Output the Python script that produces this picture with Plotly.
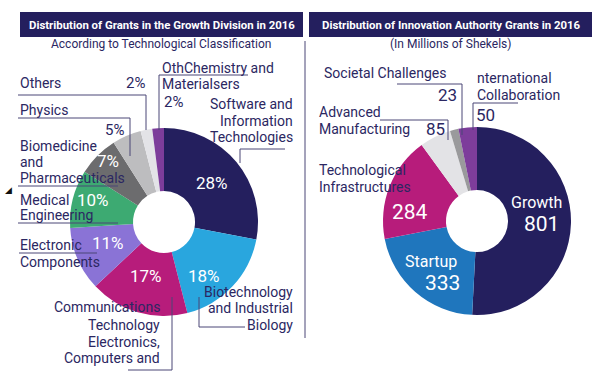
import plotly.graph_objects as go

W, H = 598, 377

# ---------------- data ----------------
left_labels = ["Software and Information Technologies", "Biotechnology and Industrial Biology",
               "Communications Technology Electronics, Computers and", "Electronic Components",
               "Medical Engineering", "Biomedicine and Pharmaceuticals", "Physics", "Others",
               "OthChemistry and Materialsers"]
left_values = [28, 18, 17, 11, 10, 7, 5, 2, 2]
left_colors = ["#241f5e", "#29a6de", "#b71c7b", "#8a73d6", "#3daa72", "#6c6c6e",
               "#bdbdbf", "#e3e3e7", "#7d3d9b"]

right_labels = ["Growth", "Startup", "Technological Infrastructures", "Advanced Manufacturing",
                "Societal Challenges", "International Collaboration"]
right_values = [801, 333, 284, 85, 23, 50]
right_colors = ["#241f5e", "#1f76bd", "#b71c7b", "#e3e3e6", "#9a9a9c", "#7d3d9b"]

NAVY = "#241f5e"
TXT = "#2b2762"
LINE = "#4a4676"
FONT = "Roboto"


def px(x):
    return x / W


def py(y):
    return 1 - y / H


fig = go.Figure()

fig.add_trace(go.Pie(
    labels=left_labels, values=left_values, sort=False, direction="clockwise",
    rotation=0, hole=0.33, textinfo="none", hoverinfo="label+percent",
    marker=dict(colors=left_colors, line=dict(width=0)),
    domain=dict(x=[px(70), px(258)], y=[py(316), py(128)]), showlegend=False))

fig.add_trace(go.Pie(
    labels=right_labels, values=right_values, sort=False, direction="clockwise",
    rotation=0, hole=0.33, textinfo="none", hoverinfo="label+value",
    marker=dict(colors=right_colors, line=dict(width=0)),
    domain=dict(x=[px(383), px(571)], y=[py(315), py(127)]), showlegend=False))

annotations = []
shapes = []


def txt(t, x, y, size=14, color=TXT, anchor="left", weight=None):
    f = dict(family=FONT, size=size, color=color)
    if weight:
        f["weight"] = weight
    annotations.append(dict(text=t, x=px(x), y=py(y), xref="paper", yref="paper",
                            xanchor=anchor, yanchor="middle", showarrow=False, font=f))


def line(pts):
    for (x0, y0), (x1, y1) in zip(pts[:-1], pts[1:]):
        shapes.append(dict(type="line", xref="paper", yref="paper",
                           x0=px(x0), y0=py(y0), x1=px(x1), y1=py(y1),
                           line=dict(color=LINE, width=1)))


# title bars
shapes.append(dict(type="rect", xref="paper", yref="paper", x0=px(20), x1=px(303),
                   y0=py(37), y1=py(12), fillcolor=NAVY, line=dict(width=0), layer="below"))
shapes.append(dict(type="rect", xref="paper", yref="paper", x0=px(309), x1=px(592),
                   y0=py(37), y1=py(12), fillcolor=NAVY, line=dict(width=0), layer="below"))
txt("<b>Distribution of Grants in the Growth Division in 2016</b>", 162, 25, 11.4, "white", "center")
txt("<b>Distribution of Innovation Authority Grants in 2016</b>", 451, 25, 11.4, "white", "center")
txt("According to Technological Classification", 161, 44, 12, TXT, "center")
txt("(In Millions of Shekels)", 450, 44, 12, TXT, "center")

# divider
line([(305, 41), (305, 338)])

# small marker
txt("◢", 8, 190, 9, "#111111", "center")

# ---------- left chart labels ----------
pct = [f"{v}%" for v in left_values]
# inside percentages
txt(pct[0], 212, 183, 17, "white", "center")
txt(pct[1], 204, 276, 17, "white", "center")
txt(pct[2], 146, 276, 17, "white", "center")
txt(pct[3], 108, 243, 17, "white", "center")
txt(pct[4], 93, 200, 17, "white", "center")
txt(pct[5], 108, 161, 17, "white", "center")
# outside percentages
txt(pct[6], 114, 130, 15, TXT, "center")
txt(pct[7], 135, 83, 15, TXT, "center")
txt(pct[8], 174, 102, 15, TXT, "center")

# Software and Information Technologies
txt("Software and", 295, 104, 14, TXT, "right")
txt("Information", 295, 121, 14, TXT, "right")
txt("Technologies", 295, 137, 14, TXT, "right")
line([(285, 149), (240, 149), (240, 163)])

# Chemistry
txt("OthChemistry and", 160, 68, 14, TXT, "left")
txt("Materialsers", 160, 84, 14, TXT, "left")
line([(248, 75), (159, 75), (159, 130)])

# Others
txt("Others", 18, 83, 14, TXT, "left")
line([(18, 95), (146, 95), (146, 130)])

# Physics
txt("Physics", 18, 110, 14, TXT, "left")
line([(18, 118), (130, 118), (130, 156)])

# Biomedicine
txt("Biomedicine", 18, 146, 14, TXT, "left")
txt("and", 18, 162, 14, TXT, "left")
txt("Pharmaceuticals", 18, 178, 14, TXT, "left")
line([(18, 186), (118, 186)])

# Medical Engineering
txt("Medical", 18, 200, 14, TXT, "left")
txt("Engineering", 18, 215, 14, TXT, "left")
line([(18, 223), (118, 223)])

# Electronic Components
txt("Electronic", 18, 245, 14, TXT, "left")
txt("Components", 18, 262, 14, TXT, "left")
line([(19, 253), (97, 253)])

# Biotechnology
txt("Biotechnology", 295, 292, 14, TXT, "right")
txt("and Industrial", 295, 308, 14, TXT, "right")
txt("Biology", 295, 325, 14, TXT, "right")
line([(199, 297), (199, 327), (245, 327)])

# Communications
txt("Communications", 162, 307, 14, TXT, "right")
txt("Technology", 162, 325, 14, TXT, "right")
txt("Electronics,", 162, 342, 14, TXT, "right")
txt("Computers and", 162, 358, 14, TXT, "right")
line([(172, 297), (172, 370), (128, 370)])

# ---------- right chart labels ----------
rv = [str(v) for v in right_values]
txt("Growth", 536, 202, 16, "white", "center")
txt(rv[0], 541, 224, 21, "white", "center")
txt("Startup", 431, 261, 16, "white", "center")
txt(rv[1], 443, 283, 21, "white", "center")
txt(rv[2], 410, 212, 21, "white", "center")

txt("Technological", 317, 170, 14, TXT, "left")
txt("Infrastructures", 317, 187, 14, TXT, "left")

txt("Advanced", 317, 112, 14, TXT, "left")
txt("Manufacturing", 317, 129, 14, TXT, "left")
txt(rv[3], 435, 129, 17, TXT, "center")
line([(380, 120), (448, 120), (448, 140)])

txt("Societal Challenges", 322, 73, 14, TXT, "left")
txt(rv[4], 448, 95, 17, TXT, "center")
line([(397, 84), (462, 84), (462, 135)])

txt("nternational", 475, 78, 14, TXT, "left")
txt("Collaboration", 475, 95, 14, TXT, "left")
txt(rv[5], 485, 115, 17, TXT, "center")
line([(518, 103), (473, 103), (473, 130)])

fig.update_layout(width=W, height=H, margin=dict(l=0, r=0, t=0, b=0),
                  paper_bgcolor="white", plot_bgcolor="white",
                  annotations=annotations, shapes=shapes,
                  font=dict(family=FONT, color=TXT))

fig.write_html("out.html", config={"displayModeBar": False},
               post_script="document.body.style.margin='0';")
